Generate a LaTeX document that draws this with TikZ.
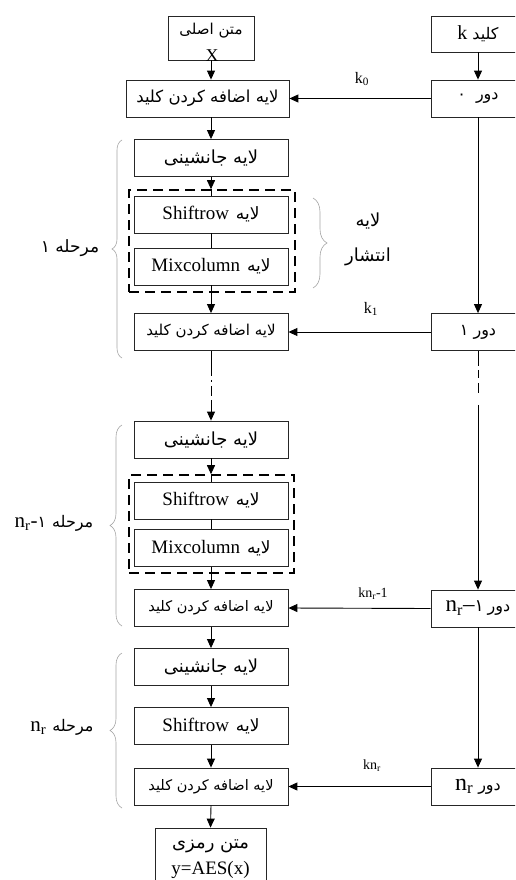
\documentclass[tikz,border=0pt]{standalone}
\usepackage{fontspec}
\setmainfont{Liberation Serif}
\newfontfamily\fa[Script=Arabic]{DejaVu Sans}
\TeXXeTstate=1
\usetikzlibrary{arrows.meta,decorations.pathreplacing}
\newcommand{\fatext}[1]{{\fa\beginR #1\endR}}
\newcommand{\setfs}[1]{\fontsize{#1}{#1}\selectfont}
\tikzset{
  box/.style={draw=black!85, line width=0.8pt, minimum width=154pt, minimum height=37pt, inner sep=0pt},
  rbox/.style={box, minimum width=94pt},
  dbox/.style={draw, line width=1.6pt, dash pattern=on 10pt off 6pt, inner sep=0pt},
  arr/.style={-{Triangle[length=9pt,width=8pt]}, line width=0.9pt},
  plain/.style={line width=0.9pt},
  brc/.style={decorate, decoration={brace, amplitude=#1}, draw=gray!70, line width=0.6pt},
  lbl/.style={inner sep=0pt}
}
\begin{document}
\begin{tikzpicture}[x=1pt,y=-1pt]
\useasboundingbox (0,0) rectangle (515,880);
\clip (0,0) rectangle (515,880);
\fill[white] (0,0) rectangle (515,880);

% left column
\node[box, minimum width=86pt, minimum height=44pt] (src) at (211,38) {};
\node[lbl] (srcT) at (211,31) {\setfs{15}\fatext{متن اصلی}};
\node[lbl] (srcX) at (212,56) {\setfs{18}X};
\node[box, minimum width=163pt] (ak1) at (207.5,98.5) {\setfs{16.5}\fatext{لایه اضافه کردن کلید}};
\node[box] (sb1) at (211,158) {\setfs{18}\fatext{لایه جانشینی}};
\node[dbox, minimum width=166pt, minimum height=102pt] (g1) at (212,241) {};
\node[box] (sr1) at (211,214.5) {\setfs{19}Shiftrow\hspace{7pt}\setfs{17}\fatext{لایه}};
\node[box] (mc1) at (211,266.5) {\setfs{19}Mixcolumn\hspace{7pt}\setfs{17}\fatext{لایه}};
\node[box] (ak2) at (211,332) {\setfs{15}\fatext{لایه اضافه کردن کلید}};

\node[box] (sb2) at (211,439.5) {\setfs{18}\fatext{لایه جانشینی}};
\node[dbox, minimum width=165pt, minimum height=98pt] (g2) at (211.5,524) {};
\node[box] (sr2) at (211,500.5) {\setfs{19}Shiftrow\hspace{7pt}\setfs{17}\fatext{لایه}};
\node[box] (mc2) at (211,548) {\setfs{19}Mixcolumn\hspace{7pt}\setfs{17}\fatext{لایه}};
\node[box] (ak3) at (211,608) {\setfs{14.5}\fatext{لایه اضافه کردن کلید}};
\node[box] (sb3) at (211,667) {\setfs{18}\fatext{لایه جانشینی}};
\node[box] (sr3) at (211,726) {\setfs{19}Shiftrow\hspace{7pt}\setfs{17}\fatext{لایه}};
\node[box] (ak4) at (211,786.5) {\setfs{14.5}\fatext{لایه اضافه کردن کلید}};
\node[box, minimum width=111pt, minimum height=60pt] (dst) at (210.5,858) {};
\node[lbl] (dstT) at (210.5,846) {\setfs{18}\fatext{متن رمزی}};
\node[lbl] (dstY) at (210.5,870) {\setfs{19}y=AES(x)};

% right column
\node[rbox, minimum height=36pt] (key) at (478,34) {\setfs{20}k\hspace{5pt}\setfs{16}\fatext{کلید}};
\node[rbox] (d0) at (478,98.5) {\setfs{16}\fatext{دور\hspace{10pt}۰}};
\node[rbox] (d1) at (478,332) {\setfs{16}\fatext{دور ۱}};
\node[rbox] (dn1) at (478,608.5) {\setfs{23}n\textsubscript{r}--\setfs{17}{\fa ۱}\hspace{4pt}\setfs{16}\fatext{دور}};
\node[rbox] (dn) at (478,786.5) {\setfs{24}n\textsubscript{r}\hspace{5pt}\setfs{16}\fatext{دور}};

% key labels
\node[lbl] (k0) at (362,79) {\setfs{16}k\textsubscript{0}};
\node[lbl] (k1) at (371,309) {\setfs{16}k\textsubscript{1}};
\node[lbl] (kn1) at (373,594) {\setfs{14}kn\textsubscript{r}-1};
\node[lbl] (kn) at (372,766) {\setfs{14}kn\textsubscript{r}};

% coordinates on dashed groups
\coordinate (g1t) at (sb1.south |- g1.north);
\coordinate (g1b) at (mc1.south |- g1.south);
\coordinate (g2t) at (sb2.south |- g2.north);
\coordinate (g2b) at (mc2.south |- g2.south);

% left connectors
\draw[arr] (src.south) -- (src.south |- ak1.north);
\draw[arr] (sb1.north |- ak1.south) -- (sb1.north);
\draw[arr] (sb1.south) -- (g1t);
\draw[plain] (g1t) -- (sr1.north);
\draw[plain] (sr1.south) -- (mc1.north);
\draw[plain] (mc1.south) -- (g1b);
\draw[arr] (g1b) -- (ak2.north);
\draw[arr, dash pattern=on 25pt off 4pt on 2pt off 4pt on 10pt off 4pt on 100pt] (ak2.south) -- (sb2.north);
\draw[arr] (sb2.south) -- (g2t);
\draw[plain] (g2t) -- (sr2.north);
\draw[plain] (sr2.south) -- (mc2.north);
\draw[plain] (mc2.south) -- (g2b);
\draw[arr] (g2b) -- (ak3.north);
\draw[arr] (ak3.south) -- (sb3.north);
\draw[arr] (sb3.south) -- (sr3.north);
\draw[arr] (sr3.south) -- (ak4.north);
\draw[arr] (ak4.south) -- (dst.north);

% right connectors
\draw[arr] (key.south) -- (d0.north);
\draw[arr] (d0.west) -- (ak1.east);
\draw[arr] (d0.south) -- (d1.north);
\draw[arr] (d1.west) -- (ak2.east);
\draw[arr, dash pattern=on 15pt off 4pt on 8pt off 5pt on 10pt off 12pt on 300pt] (d1.south) -- (dn1.north);
\draw[arr] (dn1.west) -- (ak3.east);
\draw[arr] (dn1.south) -- (dn.north);
\draw[arr] (dn.west) -- (ak4.east);

% braces
\draw[brc=10pt] (122,358) -- (122,140);
\draw[brc=14pt] (313,198) -- (313,288);
\draw[brc=12pt] (122,626) -- (122,425);
\draw[brc=12pt] (122,808) -- (122,653);

% brace labels
\node[lbl] (m1) at (70,248) {\setfs{17}\fatext{مرحله ۱}};
\node[lbl] (ent1) at (368,221) {\setfs{18}\fatext{لایه}};
\node[lbl] (ent2) at (368,257) {\setfs{18}\fatext{انتشار}};
\node[lbl] (m2) at (54,523) {\setfs{21}n\textsubscript{r}-\setfs{16}{\fa ۱}\hspace{6pt}\fatext{مرحله}};
\node[lbl] (m3) at (62,727) {\setfs{21}n\textsubscript{r}\hspace{6pt}\setfs{16}\fatext{مرحله}};
\end{tikzpicture}
\end{document}
